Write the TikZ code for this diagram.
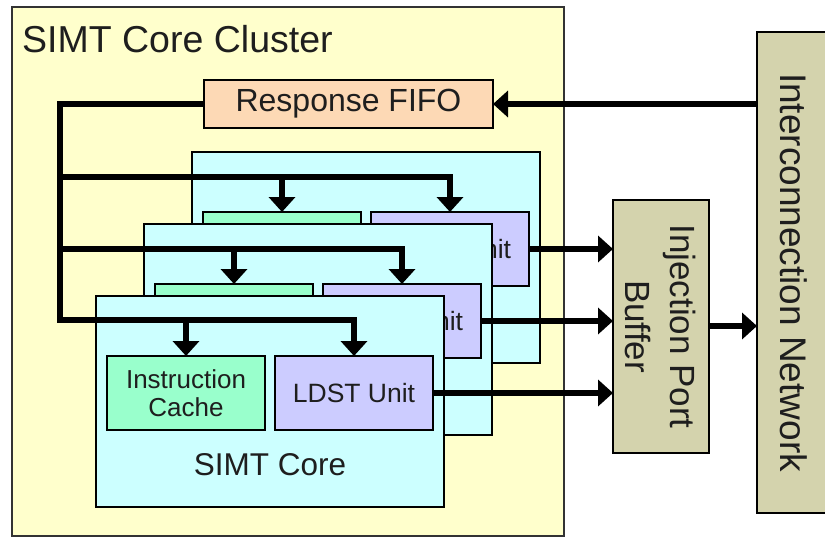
\documentclass[tikz,border=0pt]{standalone}
\usepackage{fontspec}
\setmainfont{Liberation Sans}
\usetikzlibrary{arrows.meta}
\definecolor{clusterfill}{HTML}{FFFFCC}
\definecolor{fifofill}{HTML}{FDD9B5}
\definecolor{corefill}{HTML}{CCFFFF}
\definecolor{icfill}{HTML}{99FFCC}
\definecolor{ldstfill}{HTML}{CCCCFF}
\definecolor{netfill}{HTML}{D4D3AD}
\definecolor{txt}{HTML}{1E1E1E}
\tikzset{
  box/.style={draw=black, line width=1.8pt, inner sep=0pt, outer sep=0pt, text=txt, align=center},
  corebox/.style={box, fill=corefill, minimum width=348pt, minimum height=211pt},
  icbox/.style={box, fill=icfill, minimum width=158pt, minimum height=74pt, font=\fontsize{26}{28}\selectfont},
  ldstbox/.style={box, fill=ldstfill, minimum width=158pt, minimum height=74pt, font=\fontsize{26.5}{28}\selectfont},
  wire/.style={line width=5.5pt, draw=black, line join=miter},
  arr/.style={wire, -{Triangle[length=15pt,width=26pt]}},
}
\begin{document}
\begin{tikzpicture}[x=1pt,y=-1pt]
\useasboundingbox (0,0) rectangle (825,538);
% cluster
\node[box, draw=black!80, fill=clusterfill, minimum width=552pt, minimum height=529pt] (cluster) at (288,271.5) {};
\node[anchor=base west, inner sep=0pt, text=txt, font=\fontsize{37.5}{40}\selectfont] (title) at (22,52) {SIMT Core Cluster};
% response fifo
\node[box, fill=fifofill, minimum width=289pt, minimum height=48pt, font=\fontsize{32}{34}\selectfont] (fifo) at (348.5,104) {Response FIFO};
% network boxes (rotated: north = right side, south = left side)
\node[box, fill=netfill, minimum width=253pt, minimum height=96pt, rotate=-90, font=\fontsize{35}{45}\selectfont] (inject) at (661,326.5) {Injection Port\\Buffer};
\node[box, fill=netfill, minimum width=481pt, minimum height=73pt, rotate=-90, font=\fontsize{37}{40}\selectfont] (net) at (793.5,272.5) {Interconnection Network};
\coordinate (bus3) at (60,177);
\coordinate (bus2) at (60,249);
\coordinate (bus1) at (60,320);
% core 3 (back)
\node[corebox] (core3) at (366,257.5) {};
\node[icbox] (ic3) at (282,249) {Instruction\\Cache};
\node[ldstbox] (ldst3) at (450,249) {LDST Unit};
\draw[arr] (bus3) -| (ldst3.north);
\draw[arr] (ic3.north |- bus3) -- (ic3.north);
% core 2 (middle)
\node[corebox] (core2) at (318,329.5) {};
\node[icbox] (ic2) at (234,321) {Instruction\\Cache};
\node[ldstbox] (ldst2) at (402,321) {LDST Unit};
\draw[arr] (bus2) -| (ldst2.north);
\draw[arr] (ic2.north |- bus2) -- (ic2.north);
% core 1 (front)
\node[corebox] (core1) at (270,401.5) {};
\node[icbox] (ic1) at (186,393) {Instruction\\Cache};
\node[ldstbox] (ldst1) at (354,393) {LDST Unit};
\node[anchor=base, inner sep=0pt, text=txt, font=\fontsize{31.5}{34}\selectfont] (corelabel) at (270,475) {SIMT Core};
\draw[arr] (fifo.west) -| (bus1) -| (ldst1.north);
\draw[arr] (ic1.north |- bus1) -- (ic1.north);
% outputs
\draw[arr] (ldst3.east) -- (ldst3.east -| inject.south);
\draw[arr] (ldst2.east) -- (ldst2.east -| inject.south);
\draw[arr] (ldst1.east) -- (ldst1.east -| inject.south);
\draw[arr] (inject.north |- 0,326) -- (net.south |- 0,326);
\draw[arr] (net.south |- fifo.east) -- (fifo.east);
\end{tikzpicture}
\end{document}
